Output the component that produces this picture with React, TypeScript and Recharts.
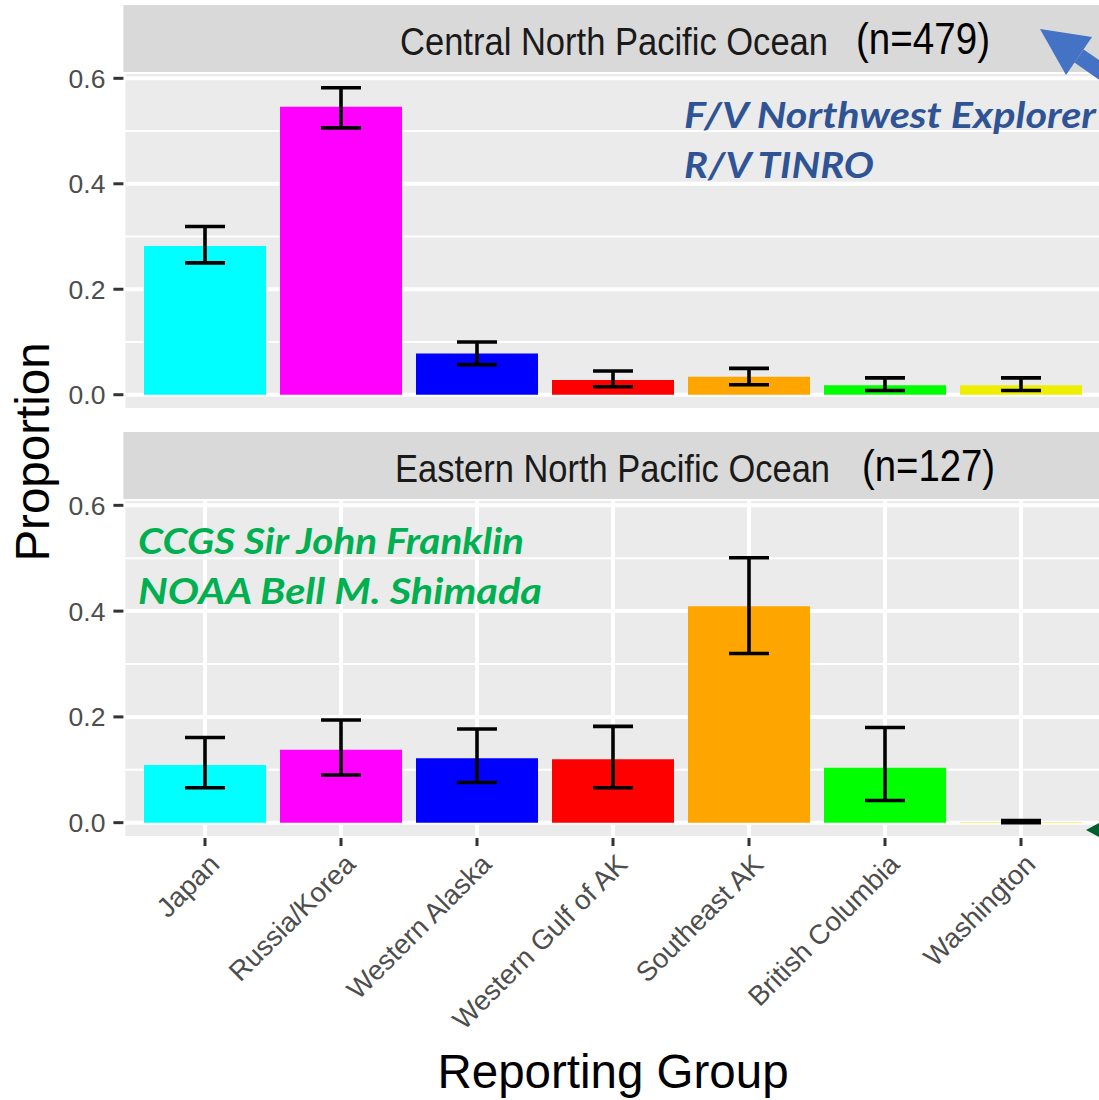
import React from 'react';
import { BarChart, Bar, Cell, XAxis, YAxis, CartesianGrid, ErrorBar } from 'recharts';

const groups = ['Japan', 'Russia/Korea', 'Western Alaska', 'Western Gulf of AK', 'Southeast AK', 'British Columbia', 'Washington'];
const groupColors = ['#00FFFF', '#FF00FF', '#0000FF', '#FF0000', '#FFA500', '#00FF00', '#EEEE00'];

// Central North Pacific Ocean (n=479)
const centralValues = [0.282, 0.546, 0.078, 0.028, 0.034, 0.018, 0.018];
const centralLower = [0.25, 0.506, 0.057, 0.015, 0.019, 0.008, 0.008];
const centralUpper = [0.319, 0.582, 0.1, 0.045, 0.05, 0.032, 0.032];

// Eastern North Pacific Ocean (n=127)
const easternValues = [0.109, 0.138, 0.122, 0.12, 0.409, 0.104, 0.001];
const easternLower = [0.066, 0.09, 0.076, 0.066, 0.32, 0.042, 0.0];
const easternUpper = [0.161, 0.194, 0.177, 0.182, 0.501, 0.18, 0.004];

const yTicks = [0, 0.2, 0.4, 0.6];
const yMinorTicks = [0.1, 0.3, 0.5];
const yDomain = [-0.029, 0.612];

const FONT = '"Liberation Sans", Arial, sans-serif';
const NOTE_FONT = 'Lato, "Open Sans", sans-serif';

const makeRows = (vals: number[], lo: number[], hi: number[]) =>
  groups.map((g, i) => ({ group: g, value: vals[i], err: [vals[i] - lo[i], hi[i] - vals[i]] }));

const centralRows = makeRows(centralValues, centralLower, centralUpper);
const easternRows = makeRows(easternValues, easternLower, easternUpper);

const XTick = (props: any) => {
  const { x, y, payload } = props;
  return (
    <g transform={`translate(${x + 2},${y + 2})`}>
      <text transform="rotate(-45)" textAnchor="end" dy="0.72em" fontSize={27.5} fill="#4D4D4D" fontFamily={FONT}>
        {payload.value}
      </text>
    </g>
  );
};

const Panel = ({ rows, height, marginTop, axisHeight }: any) => (
  <BarChart
    width={1110}
    height={height}
    data={rows}
    margin={{ top: marginTop, right: 7.4, bottom: axisHeight ? 0 : 10, left: 0 }}
    barSize={122}
  >
    <CartesianGrid fill="#EBEBEB" stroke="#FFFFFF" strokeWidth={2} vertical={false} yAxisId="minor" />
    <CartesianGrid stroke="#FFFFFF" strokeWidth={4} yAxisId="main" />
    <XAxis
      dataKey="group"
      padding={{ left: 13.6, right: 13.6 }}
      height={axisHeight || 0}
      interval={0}
      axisLine={false}
      tickSize={axisHeight ? 8 : 0}
      tickMargin={4}
      tickLine={axisHeight ? { stroke: '#333333', strokeWidth: 3 } : false}
      tick={axisHeight ? <XTick /> : false}
    />
    <YAxis
      yAxisId="minor"
      type="number"
      domain={yDomain}
      ticks={yMinorTicks}
      allowDataOverflow
      interval={0}
      hide
    />
    <YAxis
      yAxisId="main"
      type="number"
      domain={yDomain}
      ticks={yTicks}
      allowDataOverflow
      interval={0}
      width={123.4}
      axisLine={false}
      tickSize={10}
      tickMargin={8}
      tickLine={{ stroke: '#333333', strokeWidth: 3 }}
      tick={{ fill: '#4D4D4D', fontSize: 26.5, fontFamily: FONT }}
      tickFormatter={(v: number) => v.toFixed(1)}
    />
    <Bar dataKey="value" yAxisId="main" isAnimationActive={false}>
      {rows.map((r: any, i: number) => (
        <Cell key={r.group} fill={groupColors[i]} />
      ))}
      <ErrorBar dataKey="err" width={20} stroke="#000000" strokeWidth={3.6} isAnimationActive={false} />
    </Bar>
  </BarChart>
);

export default function App() {
  return (
    <div style={{ position: 'absolute', left: 0, top: 0, width: 1099, height: 1100, overflow: 'hidden', background: '#FFFFFF' }}>
      <div style={{ position: 'absolute', left: 0, top: 0 }}>
        <Panel rows={centralRows} height={420} marginTop={72} />
      </div>
      <div style={{ position: 'absolute', left: 0, top: 430 }}>
        <Panel rows={easternRows} height={670} marginTop={69} axisHeight={262} />
      </div>
      <svg width={1099} height={1100} style={{ position: 'absolute', left: 0, top: 0, pointerEvents: 'none' }}>
        <rect x={123.4} y={5} width={990} height={67} fill="#D9D9D9" />
        <rect x={123.4} y={432} width={990} height={67} fill="#D9D9D9" />
        <text x={400} y={55} fontSize={38} fontFamily={FONT} fill="#1A1A1A" textLength={428} lengthAdjust="spacingAndGlyphs">
          Central North Pacific Ocean
        </text>
        <text x={856} y={54} fontSize={44} fontFamily={FONT} fill="#000000" textLength={134} lengthAdjust="spacingAndGlyphs">
          (n=479)
        </text>
        <text x={395} y={482} fontSize={38} fontFamily={FONT} fill="#1A1A1A" textLength={435} lengthAdjust="spacingAndGlyphs">
          Eastern North Pacific Ocean
        </text>
        <text x={862} y={481} fontSize={44} fontFamily={FONT} fill="#000000" textLength={133} lengthAdjust="spacingAndGlyphs">
          (n=127)
        </text>

        <g fontFamily={NOTE_FONT} fontWeight={700} fontStyle="italic" fontSize={37}>
          <text x={684} y={128} fill="#2F5496" textLength={412} lengthAdjust="spacingAndGlyphs">F/V Northwest Explorer</text>
          <text x={684} y={177.5} fill="#2F5496" textLength={190} lengthAdjust="spacingAndGlyphs">R/V TINRO</text>
          <text x={138} y={553.5} fill="#00B050" textLength={386} lengthAdjust="spacingAndGlyphs">CCGS Sir John Franklin</text>
          <text x={138} y={604} fill="#00B050" textLength={404} lengthAdjust="spacingAndGlyphs">NOAA Bell M. Shimada</text>
        </g>

        <polygon points="1040,29 1092,37 1066,75" fill="#4472C4" />
        <polygon points="1074.4,62.6 1083.6,49.4 1166,106 1157,120" fill="#4472C4" />
        <polygon points="1086,830 1120,812 1120,848" fill="#00602B" />

        <text x={613} y={1088} textAnchor="middle" fontSize={47.5} fontFamily={FONT} fill="#000000">
          Reporting Group
        </text>
        <text transform="translate(49,452) rotate(-90)" textAnchor="middle" fontSize={47.5} fontFamily={FONT} fill="#000000">
          Proportion
        </text>
      </svg>
    </div>
  );
}
